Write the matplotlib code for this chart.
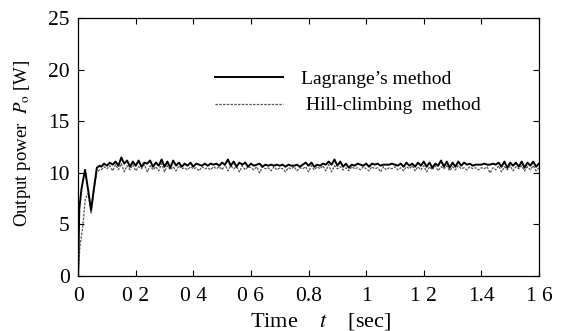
import numpy as np
from matplotlib import pyplot as plt

# transient part (sec, W)
t_lag_start = [0.0, 0.004, 0.012, 0.024, 0.035, 0.045, 0.055, 0.065, 0.075]
p_lag_start = [0.0, 6.5, 8.5, 10.3, 8.3, 6.4, 8.5, 10.5, 10.7]
t_hill_start = [0.0, 0.006, 0.015, 0.025, 0.035, 0.045, 0.055, 0.065, 0.075]
p_hill_start = [0.0, 2.8, 4.5, 7.5, 8.0, 6.1, 8.3, 10.1, 10.3]

# steady part, sampled every 0.01 s from 0.08 to 1.60
t_steady = np.round(np.arange(0.08, 1.605, 0.01), 2)
p_lag_steady = [
    10.6, 10.9, 10.7, 11.0, 10.8, 11.1, 10.7, 11.5, 10.9, 11.2,
    10.6, 11.1, 10.7, 11.2, 10.6, 11.0, 10.9, 11.2, 10.6, 11.0,
    10.7, 11.3, 10.6, 11.1, 10.5, 11.2, 10.7, 11.0, 10.6, 10.9,
    10.7, 11.0, 10.6, 10.9, 10.8, 10.7, 10.9, 10.7, 10.9, 10.8,
    10.9, 10.7, 11.0, 10.8, 11.3, 10.7, 11.1, 10.6, 11.0, 10.8,
    11.0, 10.6, 10.9, 10.7, 10.8, 10.9, 10.6, 10.8, 10.7, 10.8,
    10.7, 10.8, 10.7, 10.8, 10.6, 10.8, 10.7, 10.7, 10.8, 10.6,
    10.8, 11.0, 10.7, 11.0, 10.6, 10.8, 10.7, 10.9, 10.8, 11.1,
    10.8, 11.3, 10.7, 11.1, 10.6, 10.9, 10.5, 10.8, 10.7, 10.9,
    10.8, 10.7, 10.9, 10.6, 10.9, 10.8, 10.9, 10.7, 10.8, 10.8,
    10.8, 10.9, 10.8, 10.7, 10.9, 10.6, 11.0, 10.7, 10.9, 10.6,
    11.0, 10.7, 11.1, 10.6, 11.0, 10.5, 10.9, 10.7, 11.2, 10.6,
    11.1, 10.5, 11.0, 10.6, 11.1, 10.7, 11.0, 10.8, 10.9, 10.7,
    10.8, 10.8, 10.8, 10.9, 10.8, 10.8, 10.9, 10.8, 11.0, 10.6,
    11.1, 10.5, 11.0, 10.7, 11.0, 10.6, 11.1, 10.5, 11.0, 10.7,
    11.1, 10.6, 10.9,
]
p_hill_steady = [
    10.3, 10.6, 10.4, 10.7, 10.2, 10.8, 10.3, 10.9, 10.1, 10.7,
    10.3, 10.8, 10.2, 10.6, 10.4, 10.8, 10.1, 10.7, 10.3, 10.6,
    10.2, 10.9, 10.1, 10.7, 10.3, 10.6, 10.2, 10.7, 10.4, 10.5,
    10.3, 10.6, 10.4, 10.5, 10.2, 10.6, 10.4, 10.5, 10.3, 10.6,
    10.4, 10.6, 10.3, 10.8, 10.2, 10.7, 10.4, 10.6, 10.1, 10.7,
    10.3, 10.6, 10.5, 10.3, 10.6, 10.0, 10.6, 10.4, 10.5, 10.2,
    10.6, 10.3, 10.5, 10.4, 10.1, 10.5, 10.4, 10.6, 10.2, 10.5,
    10.4, 10.6, 10.1, 10.7, 10.3, 10.6, 10.4, 10.7, 10.2, 10.8,
    10.1, 10.7, 10.4, 10.6, 10.3, 10.5, 10.2, 10.6, 10.4, 10.5,
    10.3, 10.6, 10.4, 10.2, 10.6, 10.4, 10.5, 10.1, 10.6, 10.3,
    10.5, 10.4, 10.6, 10.3, 10.5, 10.2, 10.6, 10.4, 10.7, 10.2,
    10.6, 10.3, 10.7, 10.1, 10.6, 10.3, 10.7, 10.2, 10.6, 10.4,
    10.7, 10.2, 10.6, 10.3, 10.7, 10.4, 10.5, 10.3, 10.6, 10.4,
    10.5, 10.3, 10.5, 10.4, 10.6, 10.0, 10.5, 10.3, 10.7, 10.1,
    10.6, 10.3, 10.7, 10.2, 10.6, 10.4, 10.7, 10.2, 10.6, 10.3,
    10.7, 10.2, 10.5,
]

x_ticks = [0, 0.2, 0.4, 0.6, 0.8, 1.0, 1.2, 1.4, 1.6]
x_labels = ["0", "0 2", "0 4", "0 6", "0.8", "1", "1 2", "1.4", "1 6"]
y_ticks = [0, 5, 10, 15, 20, 25]

plt.rcParams['font.family'] = 'Liberation Serif'
plt.rcParams['mathtext.fontset'] = 'stix'

t_lag = list(t_lag_start) + list(t_steady)
p_lag = p_lag_start + p_lag_steady
t_hill = list(t_hill_start) + list(t_steady)
p_hill = p_hill_start + p_hill_steady

fig = plt.figure(figsize=(5.62, 3.31), dpi=100)
ax = fig.add_axes([0.139, 0.166, 0.820, 0.779])

ax.plot(t_hill, p_hill, color="#555555", lw=0.9, ls=(0, (2, 1)), label=" Hill-climbing  method")
ax.plot(t_lag, p_lag, color="black", lw=1.4, label="Lagrange\u2019s method")

ax.set_xlim(0, 1.6)
ax.set_ylim(0, 25)
ax.set_xticks(x_ticks)
ax.set_xticklabels(x_labels)
ax.set_yticks(y_ticks)
ax.tick_params(direction="in", top=True, right=True, labelsize=15.5, length=4, width=0.8)
ax.tick_params(axis="x", pad=8)
ax.tick_params(axis="y", pad=6)
for s in ax.spines.values():
    s.set_linewidth(0.9)

ax.set_xlabel("Time    $t$    [sec]", fontsize=16)
ax.xaxis.set_label_coords(0.527, -0.135)
ax.set_ylabel("Output power  $P_{\\rm o}$ [W]", fontsize=13.5)
ax.yaxis.set_label_coords(-0.097, 0.515)

h, l = ax.get_legend_handles_labels()
ax.legend(h[::-1], l[::-1], loc="upper left", bbox_to_anchor=(0.26, 0.865), frameon=False,
          fontsize=14, handlelength=3.5, handletextpad=0.9, labelspacing=0.45)

fig.savefig("out.png", dpi=100)
